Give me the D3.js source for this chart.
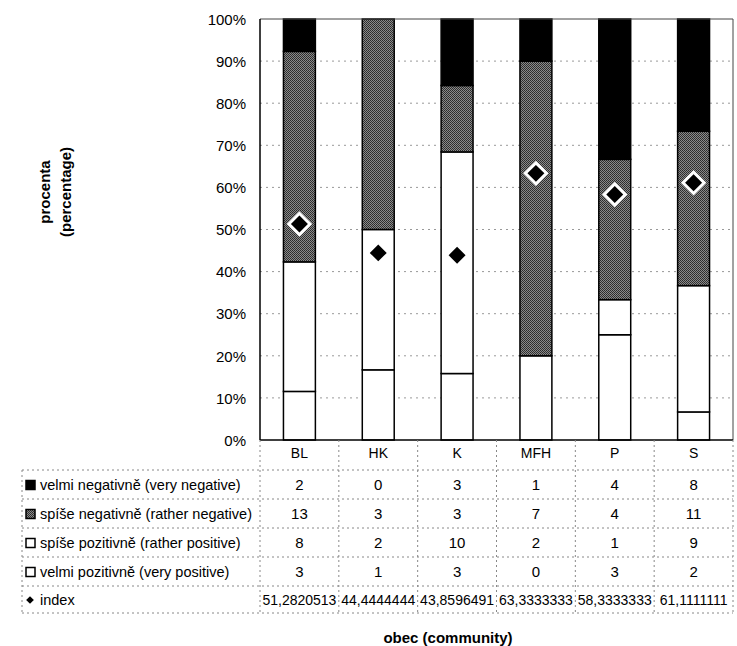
<!DOCTYPE html>
<html>
<head>
<meta charset="utf-8">
<script src="https://cdn.jsdelivr.net/npm/d3@7"></script>
<style>
  body { margin: 0; background: #fff; }
  text { font-family: "Liberation Sans", Arial, sans-serif; fill: #000; }
</style>
</head>
<body>
<div id="viz"></div>
<script>
var w = 737;
var h = 646;

// data (counts of answers per community)
var categories = ["BL", "HK", "K", "MFH", "P", "S"];
var veryNegative = [2, 0, 3, 1, 4, 8];
var ratherNegative = [13, 3, 3, 7, 4, 11];
var ratherPositive = [8, 2, 10, 2, 1, 9];
var veryPositive = [3, 1, 3, 0, 3, 2];
var indexValues = [51.2820513, 44.4444444, 43.8596491, 63.3333333, 58.3333333, 61.1111111];
var yTicks = [0, 0.1, 0.2, 0.3, 0.4, 0.5, 0.6, 0.7, 0.8, 0.9, 1];

var seriesNames = {
    veryNegative: "velmi negativně (very negative)",
    ratherNegative: "spíše negativně (rather negative)",
    ratherPositive: "spíše pozitivně (rather positive)",
    veryPositive: "velmi pozitivně (very positive)"
};

var plotLeft = 260, plotRight = 733, plotTop = 19, plotBottom = 440;

var svg = d3.select("#viz")
    .append("svg")
    .attr("width", w)
    .attr("height", h);

// dithered grey for "rather negative"
var defs = svg.append("defs");
var pat = defs.append("pattern")
    .attr("id", "dither")
    .attr("width", 2)
    .attr("height", 2)
    .attr("patternUnits", "userSpaceOnUse");
pat.append("rect").attr("width", 2).attr("height", 2).attr("fill", "#8a8a8a");
pat.append("rect").attr("width", 1).attr("height", 1).attr("fill", "#2a2a2a");
pat.append("rect").attr("x", 1).attr("y", 1).attr("width", 1).attr("height", 1).attr("fill", "#333");

var fills = {
    veryPositive: "#fff",
    ratherPositive: "#fff",
    ratherNegative: "url(#dither)",
    veryNegative: "#000"
};

var x = d3.scaleBand()
    .domain(categories)
    .range([plotLeft, plotRight])
    .padding(0);

var y = d3.scaleLinear()
    .domain([0, 1])
    .range([plotBottom, plotTop]);

var barW = x.bandwidth() * 0.405;

// gridlines
svg.append("g")
    .selectAll("line")
    .data(yTicks.slice(1, -1))
    .enter().append("line")
    .attr("x1", plotLeft)
    .attr("x2", plotRight)
    .attr("y1", function (d) { return y(d); })
    .attr("y2", function (d) { return y(d); })
    .attr("stroke", "#999")
    .attr("stroke-width", 1)
    .attr("stroke-dasharray", "2,4");

// stacked bars
var rows = categories.map(function (c, i) {
    return {
        cat: c,
        veryPositive: veryPositive[i],
        ratherPositive: ratherPositive[i],
        ratherNegative: ratherNegative[i],
        veryNegative: veryNegative[i]
    };
});

var keys = ["veryPositive", "ratherPositive", "ratherNegative", "veryNegative"];
var stacked = d3.stack().keys(keys).offset(d3.stackOffsetExpand)(rows);

var layers = svg.append("g").selectAll("g")
    .data(stacked)
    .enter().append("g")
    .attr("fill", function (d) { return fills[d.key]; });

layers.selectAll("rect")
    .data(function (d) { return d; })
    .enter().append("rect")
    .attr("x", function (d) { return x(d.data.cat) + (x.bandwidth() - barW) / 2; })
    .attr("y", function (d) { return y(d[1]); })
    .attr("width", barW)
    .attr("height", function (d) { return y(d[0]) - y(d[1]); })
    .attr("stroke", "#000")
    .attr("stroke-width", 1.5);

// plot frame
svg.append("line").attr("x1", plotLeft).attr("x2", plotRight).attr("y1", plotTop).attr("y2", plotTop)
    .attr("stroke", "#444").attr("stroke-width", 1);
svg.append("line").attr("x1", plotRight).attr("x2", plotRight).attr("y1", plotTop).attr("y2", plotBottom)
    .attr("stroke", "#444").attr("stroke-width", 1);
svg.append("line").attr("x1", plotLeft).attr("x2", plotLeft).attr("y1", plotTop).attr("y2", plotBottom)
    .attr("stroke", "#000").attr("stroke-width", 1.5);
svg.append("line").attr("x1", plotLeft).attr("x2", plotRight).attr("y1", plotBottom).attr("y2", plotBottom)
    .attr("stroke", "#000").attr("stroke-width", 1.5);

// index diamonds
var diamond = d3.symbol().type(d3.symbolSquare).size(225);
svg.append("g").selectAll("path")
    .data(indexValues)
    .enter().append("path")
    .attr("d", diamond)
    .attr("transform", function (d, i) {
        return "translate(" + (x(categories[i]) + x.bandwidth() / 2) + "," + y(d / 100) + ") rotate(45)";
    })
    .attr("fill", "#000")
    .attr("stroke", "#fff")
    .attr("stroke-width", 3);

// y axis labels
var yAxis = d3.axisLeft(y)
    .tickValues(yTicks)
    .tickSize(0)
    .tickPadding(14)
    .tickFormat(d3.format(".0%"));

var yg = svg.append("g")
    .attr("transform", "translate(" + plotLeft + ",0)")
    .call(yAxis);
yg.select(".domain").remove();
yg.selectAll("text")
    .style("font-size", "15px")
    .style("font-family", "'Liberation Sans', Arial, sans-serif")
    .attr("dy", "0.35em");

// axis titles
var yt = svg.append("text")
    .attr("transform", "translate(51,192) rotate(-90)")
    .attr("text-anchor", "middle")
    .style("font-size", "15px")
    .style("font-weight", "bold");
yt.append("tspan").attr("x", 0).attr("dy", "-0.1em").text("procenta");
yt.append("tspan").attr("x", 0).attr("dy", "1.45em").text("(percentage)");

svg.append("text")
    .attr("x", 448)
    .attr("y", 643)
    .attr("text-anchor", "middle")
    .style("font-size", "15px")
    .style("font-weight", "bold")
    .text("obec (community)");

// data table
var tableLeft = 22;
var rowLines = [470, 499, 528, 557, 586, 613];
var rowCenters = [485, 514, 543, 572, 600];
var fmt = d3.formatLocale({ decimal: ",", thousands: " ", grouping: [3], currency: ["", ""] }).format(".7f");

var table = svg.append("g");
var dash = "2,3";

table.selectAll("line.h")
    .data(rowLines)
    .enter().append("line")
    .attr("class", "h")
    .attr("x1", tableLeft).attr("x2", plotRight)
    .attr("y1", function (d) { return d; }).attr("y2", function (d) { return d; })
    .attr("stroke", "#888").attr("stroke-dasharray", dash);

var colEdges = categories.map(function (c) { return x(c); }).concat([plotRight]);
table.selectAll("line.v")
    .data(colEdges)
    .enter().append("line")
    .attr("class", "v")
    .attr("x1", function (d) { return d; }).attr("x2", function (d) { return d; })
    .attr("y1", plotBottom).attr("y2", rowLines[rowLines.length - 1])
    .attr("stroke", "#888").attr("stroke-dasharray", dash);

table.append("line")
    .attr("x1", tableLeft).attr("x2", tableLeft)
    .attr("y1", rowLines[0]).attr("y2", rowLines[rowLines.length - 1])
    .attr("stroke", "#888").attr("stroke-dasharray", dash);

// header categories
table.selectAll("text.cat")
    .data(categories)
    .enter().append("text")
    .attr("class", "cat")
    .attr("x", function (d) { return x(d) + x.bandwidth() / 2; })
    .attr("y", 453)
    .attr("dy", "0.35em")
    .attr("text-anchor", "middle")
    .style("font-size", "14px")
    .text(function (d) { return d; });

var tableKeys = ["veryNegative", "ratherNegative", "ratherPositive", "veryPositive"];
var tableData = {
    veryNegative: veryNegative,
    ratherNegative: ratherNegative,
    ratherPositive: ratherPositive,
    veryPositive: veryPositive
};

tableKeys.forEach(function (k, r) {
    var cy = rowCenters[r];
    table.append("rect")
        .attr("x", 26).attr("y", cy - 4.5)
        .attr("width", 9).attr("height", 9)
        .attr("fill", fills[k])
        .attr("stroke", "#000").attr("stroke-width", 1.5);
    table.append("text")
        .attr("x", 40).attr("y", cy).attr("dy", "0.35em")
        .style("font-size", "14.5px")
        .text(seriesNames[k]);
    table.selectAll("text.r" + r)
        .data(tableData[k])
        .enter().append("text")
        .attr("class", "r" + r)
        .attr("x", function (d, i) { return x(categories[i]) + x.bandwidth() / 2; })
        .attr("y", cy).attr("dy", "0.35em")
        .attr("text-anchor", "middle")
        .style("font-size", "15px")
        .text(function (d) { return d; });
});

// index row
var iy = rowCenters[4];
table.append("path")
    .attr("d", d3.symbol().type(d3.symbolSquare).size(30))
    .attr("transform", "translate(30," + iy + ") rotate(45)")
    .attr("fill", "#000");
table.append("text")
    .attr("x", 40).attr("y", iy).attr("dy", "0.35em")
    .style("font-size", "14.5px")
    .text("index");
table.selectAll("text.idx")
    .data(indexValues)
    .enter().append("text")
    .attr("class", "idx")
    .attr("x", function (d, i) { return x(categories[i]) + x.bandwidth() / 2; })
    .attr("y", iy).attr("dy", "0.35em")
    .attr("text-anchor", "middle")
    .style("font-size", "14px")
    .text(function (d) { return fmt(d); });
</script>
</body>
</html>
